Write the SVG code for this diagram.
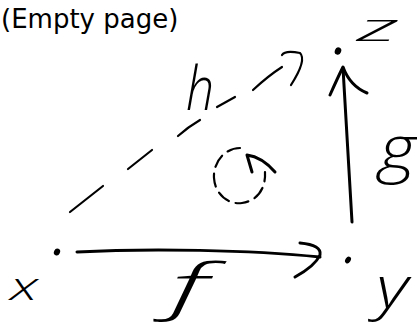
<svg xmlns="http://www.w3.org/2000/svg" width="417" height="329" viewBox="0 0 417 329">
<style>
.ink{fill:none;stroke:#000;stroke-linecap:round;stroke-linejoin:round}
.thick{stroke-width:3}
.thin{stroke-width:2.2}
.dot{fill:#000}
.hand{font-family:"Open Sans","Liberation Sans",sans-serif;font-style:italic;font-weight:300;fill:#000}
.title{font-family:"DejaVu Sans",sans-serif;font-size:26px;fill:#000}
</style>
<rect width="417" height="329" fill="#fff"/>
<text class="title" x="1" y="28">(Empty page)</text>
<g id="node-x">
  <ellipse class="dot" cx="57" cy="252" rx="3" ry="3.6" transform="rotate(25 57 252)"/>
  <text class="hand" x="10" y="300" font-size="38" textLength="28" lengthAdjust="spacingAndGlyphs">x</text>
</g>
<g id="node-y">
  <ellipse class="dot" cx="348" cy="260" rx="2.6" ry="3.6" transform="rotate(35 348 260)"/>
  <text class="hand" x="376" y="308" font-size="58" textLength="32" lengthAdjust="spacingAndGlyphs">y</text>
</g>
<g id="node-z">
  <ellipse class="dot" cx="338" cy="51" rx="3.2" ry="3.8" transform="rotate(20 338 51)"/>
  <text class="hand" x="357" y="41" font-size="38" textLength="41" lengthAdjust="spacingAndGlyphs">z</text>
</g>
<g id="connectors">
  <g id="edge-f">
    <path class="ink thick" d="M77,252 C150,248 250,250 320,257"/>
    <path class="ink thick" d="M300,243 Q322,245 320,255 Q315,266 295,277"/>
    <text class="hand" x="170" y="308" font-size="60" textLength="38" lengthAdjust="spacingAndGlyphs">f</text>
  </g>
  <g id="edge-g">
    <path class="ink thick" d="M352,222 Q348,150 343,68"/>
    <path class="ink thick" d="M330,95 Q338,77 343,67 Q350,86 367,93"/>
    <text class="hand" x="379" y="170" font-size="62" textLength="37" lengthAdjust="spacingAndGlyphs">g</text>
  </g>
  <g id="edge-h">
    <path class="ink thin" d="M70,212 L103,186"/>
    <path class="ink thin" d="M128,169 L152,150"/>
    <path class="ink thin" d="M178,136 Q188,127 200,120"/>
    <path class="ink thin" d="M217,107 L235,97"/>
    <path class="ink thin" d="M253,90 Q268,76 282,67"/>
    <path class="ink thin" d="M282,55 Q285,50 300,53 Q307,60 291,85"/>
    <text class="hand" x="186" y="110" font-size="60" textLength="28" lengthAdjust="spacingAndGlyphs">h</text>
  </g>
  <g id="circle-arrow">
    <path class="ink thin" stroke-dasharray="13 7" d="M240,148 C225,148 213,162 214,178 C215,194 228,205 242,203 C256,201 266,190 265,172"/>
    <path class="ink thick" d="M252,172 L247,155 Q262,157 275,172"/>
  </g>
</g>
</svg>
